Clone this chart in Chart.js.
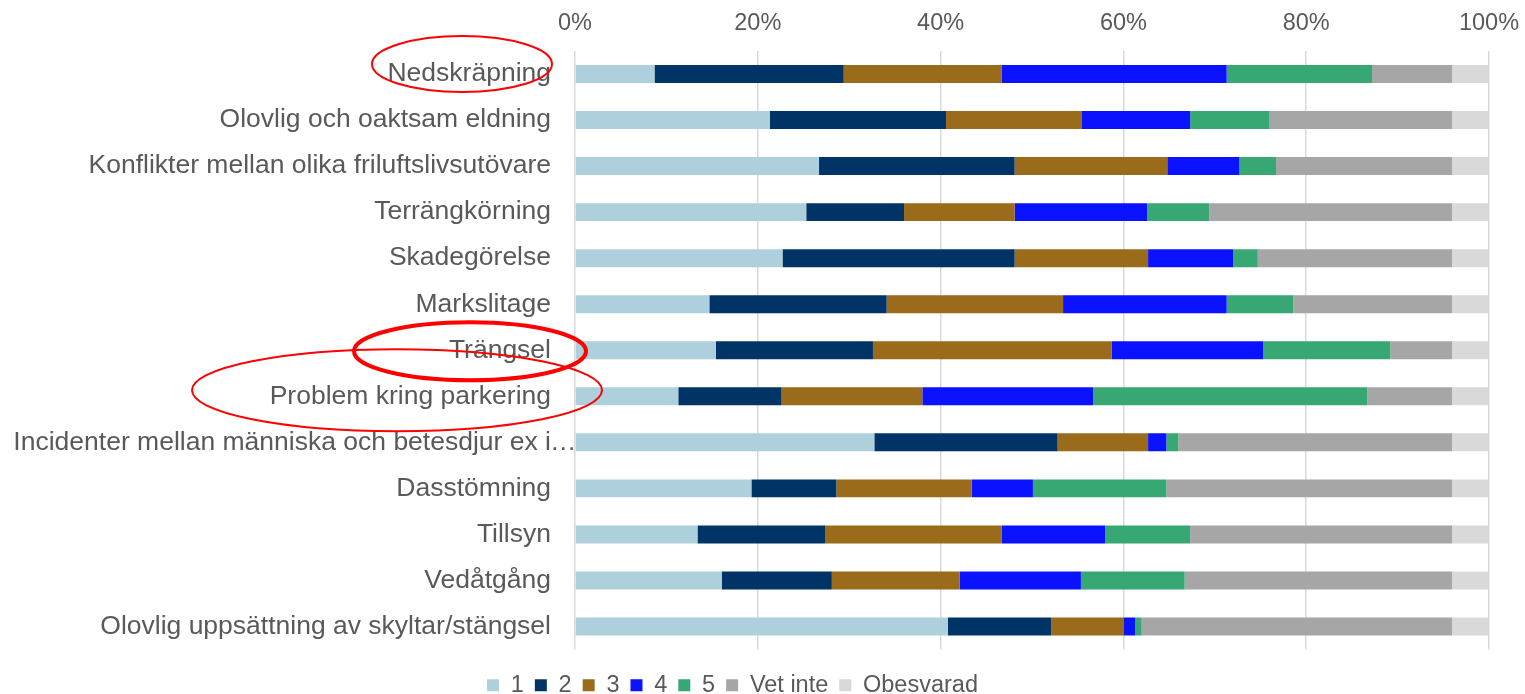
<!DOCTYPE html>
<html>
<head>
<meta charset="utf-8">
<script src="https://cdn.jsdelivr.net/npm/chart.js@4"></script>
<style>
html,body{margin:0;padding:0;background:#fff;}
#wrap{width:1525px;height:694px;position:relative;}
</style>
</head>
<body>
<div id="wrap"><canvas id="c" width="1525" height="694"></canvas></div>
<script>
const categories = [
  'Nedskräpning',
  'Olovlig och oaktsam eldning',
  'Konflikter mellan olika friluftslivsutövare',
  'Terrängkörning',
  'Skadegörelse',
  'Markslitage',
  'Trängsel',
  'Problem kring parkering',
  'Incidenter mellan människa och betesdjur ex i…',
  'Dasstömning',
  'Tillsyn',
  'Vedåtgång',
  'Olovlig uppsättning av skyltar/stängsel'
];
const seriesNames = ['1', '2', '3', '4', '5', 'Vet inte', 'Obesvarad'];
const s1 = [8.7, 21.3, 26.7, 25.3, 22.7, 14.7, 15.4, 11.3, 32.75, 19.3, 13.4, 16.05, 40.8];
const s2 = [20.7, 19.3, 21.4, 10.7, 25.4, 19.4, 17.2, 11.3, 20.05, 9.3, 14.0, 12.05, 11.3];
const s3 = [17.3, 14.8, 16.7, 12.1, 14.6, 19.3, 26.1, 15.4, 9.9, 14.8, 19.3, 14.0, 7.9];
const s4 = [24.6, 11.9, 7.9, 14.5, 9.3, 17.9, 16.6, 18.7, 2.0, 6.7, 11.3, 13.25, 1.3];
const s5 = [15.9, 8.7, 4.0, 6.8, 2.7, 7.3, 13.9, 30.0, 1.3, 14.6, 9.3, 11.35, 0.7];
const vetInte = [8.75, 19.95, 19.25, 26.55, 21.25, 17.35, 6.75, 9.25, 29.95, 31.25, 28.65, 29.25, 33.95];
const obesvarad = [4.05, 4.05, 4.05, 4.05, 4.05, 4.05, 4.05, 4.05, 4.05, 4.05, 4.05, 4.05, 4.05];
const tickLabels = ['0%', '20%', '40%', '60%', '80%', '100%'];

const seriesValues = [s1, s2, s3, s4, s5, vetInte, obesvarad];
const seriesColors = ['#aecfdc', '#003466', '#996b1b', '#0b12ff', '#37a874', '#a6a6a6', '#d9d9d9'];

// hand-drawn red rings around some category labels (offsets relative to axis / category centre)
const rings = [
  {cat: 0, dx: -113, dy: -10, rx: 90, ry: 28, w: 2},
  {cat: 6, dx: -105, dy: 1, rx: 116, ry: 29, w: 4},
  {cat: 7, dx: -178, dy: -6, rx: 205, ry: 41, w: 2}
];

const FONT = "'Liberation Sans', Arial, sans-serif";
const TEXT = '#595959';
const CAT_SIZE = 26.5;

const extrasPlugin = {
  id: 'extras',
  afterLayout(chart) {
    const lg = chart.legend;
    if (lg) { lg.left -= 12; lg.right -= 12; lg.top += 13; lg.bottom += 13; }
  },
  afterDraw(chart) {
    const ctx = chart.ctx;
    const ys = chart.scales.y;
    const left = chart.chartArea.left;
    ctx.save();
    // trailing ellipsis of truncated label hangs past label edge
    ctx.font = CAT_SIZE + 'px ' + FONT;
    ctx.fillStyle = TEXT;
    ctx.textAlign = 'left';
    ctx.textBaseline = 'middle';
    categories.forEach((c, i) => {
      if (c.endsWith('…')) ctx.fillText('…', left - 25, ys.getPixelForValue(i));
    });
    ctx.strokeStyle = '#ff0000';
    rings.forEach(r => {
      ctx.lineWidth = r.w;
      ctx.beginPath();
      ctx.ellipse(left + r.dx, ys.getPixelForValue(r.cat) + r.dy, r.rx, r.ry, 0, 0, Math.PI * 2);
      ctx.stroke();
    });
    ctx.restore();
  }
};

new Chart(document.getElementById('c'), {
  type: 'bar',
  data: {
    labels: categories,
    datasets: seriesNames.map((n, k) => ({
      label: n,
      data: seriesValues[k],
      backgroundColor: seriesColors[k],
      borderWidth: 0,
      barPercentage: 0.39,
      categoryPercentage: 1.0
    }))
  },
  options: {
    indexAxis: 'y',
    responsive: false,
    animation: false,
    devicePixelRatio: 1,
    layout: {padding: {left: 0, right: 36, top: 0, bottom: 0}},
    scales: {
      x: {
        position: 'top',
        stacked: true,
        min: 0, max: 100,
        ticks: {
          stepSize: 20,
          callback: v => tickLabels[Math.round(v / 20)],
          font: {family: FONT, size: 23.5},
          color: TEXT,
          padding: 13,
          maxRotation: 0
        },
        grid: {color: '#d9d9d9', lineWidth: 1.5, drawTicks: false},
        border: {display: false},
        afterFit: s => { s.height = 51; s.paddingLeft = 0; s.paddingRight = 0; }
      },
      y: {
        stacked: true,
        ticks: {
          autoSkip: false,
          callback: (v, i) => { const c = categories[i]; return c.endsWith('…') ? c.slice(0, -1) : c; },
          font: {family: FONT, size: CAT_SIZE},
          color: TEXT,
          padding: 24
        },
        grid: {display: false, drawTicks: false},
        border: {display: false},
        afterFit: s => { s.width = 575; s.paddingTop = 0; s.paddingBottom = 0; }
      }
    },
    plugins: {
      legend: {
        position: 'bottom',
        labels: {
          boxWidth: 12,
          boxHeight: 12,
          padding: 11,
          color: TEXT,
          font: {family: FONT, size: 23.5}
        }
      },
      tooltip: {enabled: false}
    }
  },
  plugins: [extrasPlugin]
});
</script>
</body>
</html>
